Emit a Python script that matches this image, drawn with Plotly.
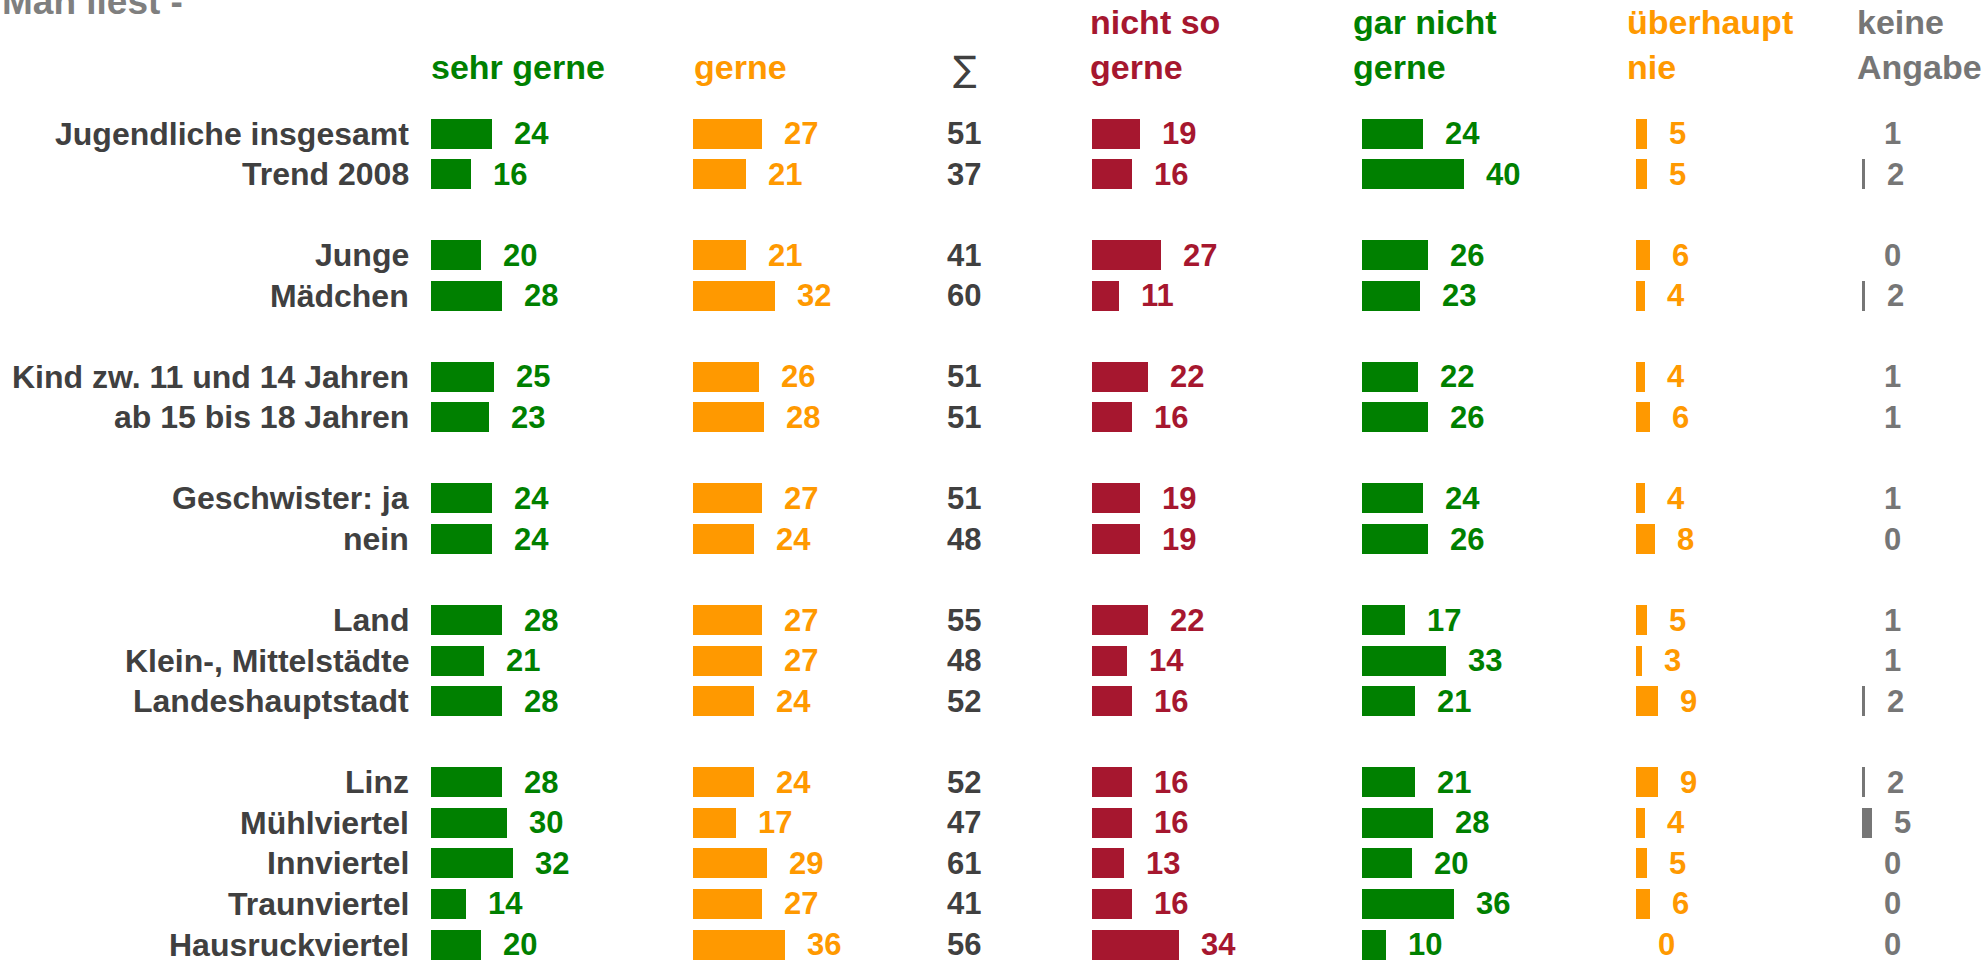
import plotly.graph_objects as go

# ---------------- data ----------------
title_text = "Man liest -"
row_labels = [
    "Jugendliche insgesamt", "Trend 2008",
    "Junge", "Mädchen",
    "Kind zw. 11 und 14 Jahren", "ab 15 bis 18 Jahren",
    "Geschwister: ja", "nein",
    "Land", "Klein-, Mittelstädte", "Landeshauptstadt",
    "Linz", "Mühlviertel", "Innviertel", "Traunviertel", "Hausruckviertel",
]
group_sizes = [2, 2, 2, 2, 3, 5]

sehr_gerne = [24, 16, 20, 28, 25, 23, 24, 24, 28, 21, 28, 28, 30, 32, 14, 20]
gerne = [27, 21, 21, 32, 26, 28, 27, 24, 27, 27, 24, 24, 17, 29, 27, 36]
summe = [51, 37, 41, 60, 51, 51, 51, 48, 55, 48, 52, 52, 47, 61, 41, 56]
nicht_so_gerne = [19, 16, 27, 11, 22, 16, 19, 19, 22, 14, 16, 16, 16, 13, 16, 34]
gar_nicht_gerne = [24, 40, 26, 23, 22, 26, 24, 26, 17, 33, 21, 21, 28, 20, 36, 10]
ueberhaupt_nie = [5, 5, 6, 4, 4, 6, 4, 8, 5, 3, 9, 9, 4, 5, 6, 0]
keine_angabe = [1, 2, 0, 2, 1, 1, 1, 0, 1, 1, 2, 2, 5, 0, 0, 0]

headers = [["sehr gerne"], ["gerne"], ["nicht so", "gerne"], ["gar nicht", "gerne"],
           ["überhaupt", "nie"], ["keine", "Angabe"]]
sum_header = "∑"

# ---------------- styling / layout ----------------
W, H = 1985, 960
GREEN, ORANGE, RED, DARK, GREY = "#008000", "#FF9900", "#A6172F", "#404040", "#767676"
FONT = "Liberation Sans, Arial, sans-serif"

series = [sehr_gerne, gerne, nicht_so_gerne, gar_nicht_gerne, ueberhaupt_nie, keine_angabe]
colors = [GREEN, ORANGE, RED, GREEN, ORANGE, GREY]
col_start_px = [431, 693, 1092, 1362, 1636, 1862]
col_origin = [0.62, 0.62, 0.62, 0.62, 0.62, 1.0]   # value at which bars visually start
header_left_px = [429, 692, 1088, 1351, 1625, 1855]
sum_center_px = 964
label_right_px = 410
px_per_unit = 2.6
axis_width_px = 110
label_gap_px = 21

first_row_px = 133.5
row_pitch_px = 40.55
bar_height_px = 30

# slot index of each row (blank slot between groups)
slots = []
s = 0
for gi, n in enumerate(group_sizes):
    for _ in range(n):
        slots.append(s)
        s += 1
    s += 1

y_top = -first_row_px / row_pitch_px
y_bottom = (H - first_row_px) / row_pitch_px

fig = go.Figure()
annotations = []
layout_axes = {}

for i, (vals, col) in enumerate(zip(series, colors)):
    axname = "x" if i == 0 else f"x{i+1}"
    layout_key = "xaxis" if i == 0 else f"xaxis{i+1}"
    x0 = col_start_px[i] / W
    x1 = (col_start_px[i] + axis_width_px) / W
    org = col_origin[i]
    xmax = org + axis_width_px / px_per_unit
    layout_axes[layout_key] = dict(domain=[x0, x1], range=[org, xmax], anchor="y",
                                   visible=False, fixedrange=True)
    fig.add_trace(go.Bar(
        x=vals, y=slots, orientation="h", xaxis=axname, yaxis="y",
        marker=dict(color=col, line=dict(width=0)),
        width=bar_height_px / row_pitch_px, hoverinfo="skip", showlegend=False,
    ))
    for v, yy in zip(vals, slots):
        annotations.append(dict(
            x=max(v, org), y=yy, xref=axname, yref="y", text=str(v),
            xanchor="left", yanchor="middle", xshift=label_gap_px, showarrow=False,
            borderpad=0,
            font=dict(family=FONT, size=31, color=col, weight="bold"),
        ))
    # header
    lines = headers[i]
    line_centers = [22, 67] if len(lines) == 2 else [67]
    for txt, cy in zip(lines, line_centers):
        annotations.append(dict(
            x=header_left_px[i] / W, y=1 - cy / H, xref="paper", yref="paper", text=txt,
            xanchor="left", yanchor="middle", showarrow=False,
            font=dict(family=FONT, size=34, color=col, weight="bold"),
        ))

# row labels
for lab, yy in zip(row_labels, slots):
    annotations.append(dict(
        x=label_right_px / W, y=yy, xref="paper", yref="y", text=lab,
        xanchor="right", yanchor="middle", showarrow=False, borderpad=0,
        font=dict(family=FONT, size=32, color=DARK, weight="bold"),
    ))

# sum column
for v, yy in zip(summe, slots):
    annotations.append(dict(
        x=sum_center_px / W, y=yy, xref="paper", yref="y", text=str(v),
        xanchor="center", yanchor="middle", showarrow=False, borderpad=0,
        font=dict(family=FONT, size=31, color=DARK, weight="bold"),
    ))
annotations.append(dict(
    x=(sum_center_px + 1) / W, y=1 - 69 / H, xref="paper", yref="paper", text=sum_header,
    xanchor="center", yanchor="middle", showarrow=False,
    font=dict(family="DejaVu Sans, " + FONT, size=35, color=DARK),
))

# title (mostly cut off at the top)
annotations.append(dict(
    x=0, y=1 - 1 / H, xref="paper", yref="paper", text=title_text,
    xanchor="left", yanchor="middle", showarrow=False,
    font=dict(family=FONT, size=37, color="#7F7F7F", weight="bold"),
))

fig.update_layout(
    width=W, height=H,
    margin=dict(l=0, r=0, t=0, b=0),
    paper_bgcolor="white", plot_bgcolor="white",
    barmode="overlay", bargap=0,
    yaxis=dict(
        range=[y_bottom, y_top], anchor="x", visible=False,
        showgrid=False, zeroline=False, fixedrange=True,
    ),
    annotations=annotations,
    showlegend=False,
    **layout_axes,
)

fig.write_html("out.html", config={"displayModeBar": False},
               post_script="document.body.style.margin='0';document.body.style.overflow='hidden';")
